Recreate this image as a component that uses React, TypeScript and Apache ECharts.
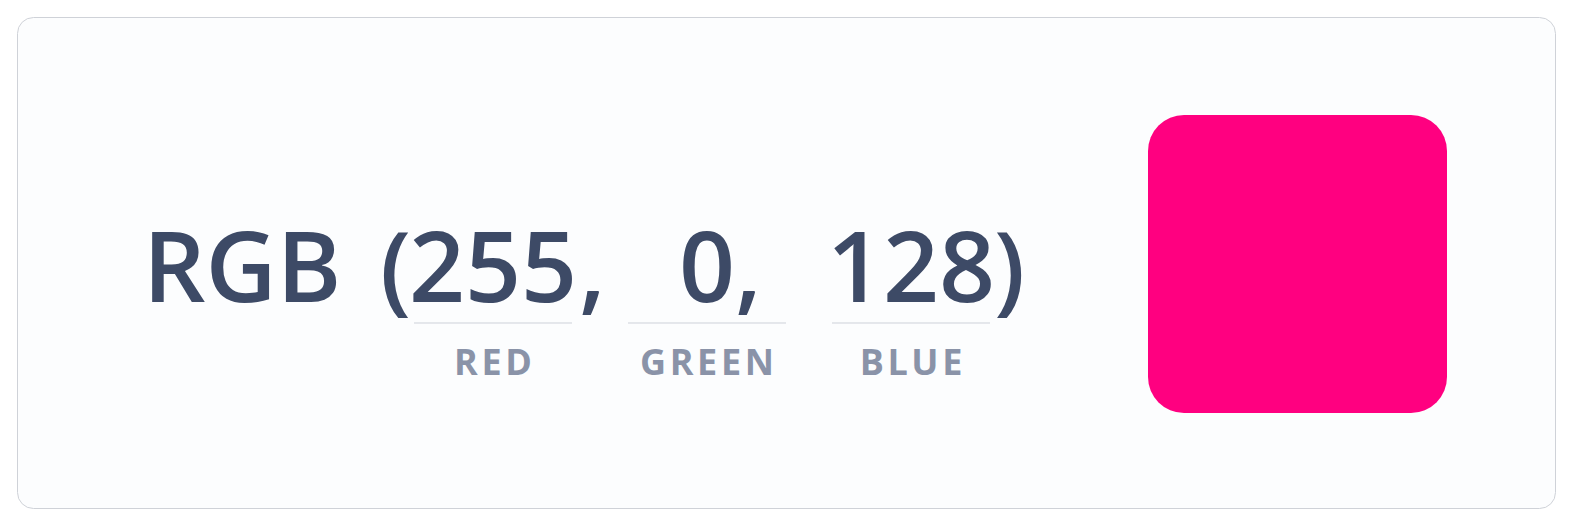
import { useEffect, useRef } from "react";
import * as echarts from "echarts";

const CHANNELS = ["RED", "GREEN", "BLUE"];
const VALUES = [255, 0, 128];
const CENTERS = [493, 707, 911];

const DARK = "#3d4a66";
const MUTED = "#8a93a8";
const FONT = "'Open Sans', sans-serif";

export default function App() {
  const ref = useRef<HTMLDivElement>(null);
  useEffect(() => {
    if (!ref.current) return;
    const chart = echarts.init(ref.current, undefined, { renderer: "svg" });
    const off = 8;
    const midY = 264 - off;
    const big = (x: number, text: string, align: string) => ({
      type: "text",
      x: x - off,
      y: midY,
      style: { text, fill: DARK, font: `600 98px ${FONT}`, align, verticalAlign: "middle" },
    });
    const els: any[] = [
      {
        type: "rect",
        shape: { x: 9.5, y: 9.5, width: 1538, height: 491, r: 16 },
        style: { fill: "#fcfdfe", stroke: "#cfd2d8", lineWidth: 1 },
      },
      big(143, "RGB", "left"),
      big(380, "(", "left"),
      big(579, ",", "left"),
      big(735, ",", "left"),
      big(994, ")", "left"),
    ];
    VALUES.forEach((v, i) => {
      const c = CENTERS[i];
      els.push(big(c, String(v), "center"));
      els.push({
        type: "line",
        shape: { x1: c - 79 - off, y1: 323 - off, x2: c + 79 - off, y2: 323 - off },
        style: { stroke: "#cdd1d9", lineWidth: 1 },
      });
      els.push({
        type: "text",
        x: c - off,
        y: 361 - off,
        style: {
          text: CHANNELS[i].split("").join("\u200A"),
          fill: MUTED,
          font: `bold 36px ${FONT}`,
          align: "center",
          verticalAlign: "middle",
        },
      });
    });
    els.push({
      type: "rect",
      shape: { x: 1148 - off, y: 115 - off, width: 299, height: 298, r: 36 },
      style: { fill: `rgb(${VALUES.join(",")})` },
    });
    chart.setOption({ animation: false, graphic: { elements: els } });
    return () => chart.dispose();
  }, []);
  return <div ref={ref} style={{ width: 1556, height: 508 }} />;
}
